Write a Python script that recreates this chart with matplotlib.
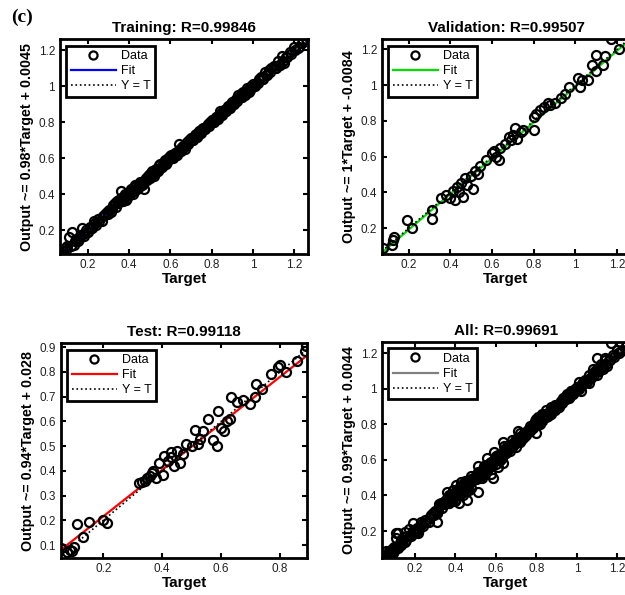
import matplotlib
matplotlib.use("Agg")
import matplotlib.pyplot as plt

plt.rcParams['font.family'] = ['Liberation Sans', 'DejaVu Sans']

# Training set (target, network output)
train_target_a = [
    0.065, 0.07, 0.08, 0.09, 0.1, 0.11, 0.12, 0.13, 0.14, 0.15,
    0.16, 0.17, 0.18, 0.19, 0.2, 0.21, 0.22, 0.23, 0.24, 0.25,
    0.27, 0.28, 0.29, 0.3, 0.31, 0.32, 0.33, 0.34, 0.35, 0.36,
    0.36, 0.37, 0.38, 0.39, 0.4, 0.41, 0.42, 0.43, 0.44, 0.45,
    0.46, 0.47, 0.48, 0.49, 0.5, 0.5, 0.51, 0.52, 0.53, 0.54,
    0.55, 0.56, 0.57, 0.58, 0.59, 0.6, 0.61, 0.62, 0.63, 0.64,
    0.65, 0.66, 0.67, 0.68, 0.69, 0.7, 0.71, 0.72, 0.73, 0.74,
    0.75, 0.76, 0.77, 0.78, 0.79, 0.8, 0.81, 0.82, 0.83, 0.84,
    0.85, 0.86, 0.87, 0.88, 0.89, 0.9, 0.91, 0.92, 0.93, 0.94,
    0.95, 0.96, 0.97, 0.98, 0.99, 1.0, 1.01, 1.02, 1.03, 1.04,
    1.05, 1.06, 1.07, 1.08, 1.09, 1.1, 1.11, 1.12, 1.13, 1.14,
    1.15, 1.16, 1.18, 1.2, 1.22, 1.24, 1.26,
    0.355, 0.365, 0.375, 0.385, 0.395, 0.405, 0.415, 0.425, 0.435, 0.445,
    0.455, 0.465, 0.475, 0.485, 0.495, 0.505, 0.515, 0.525, 0.535, 0.545,
    0.555, 0.565, 0.575, 0.585, 0.595, 0.605, 0.615, 0.625, 0.635, 0.645,
    0.655, 0.665, 0.675, 0.685, 0.695, 0.705, 0.715, 0.725, 0.735, 0.745,
    0.755, 0.765, 0.775, 0.785, 0.795, 0.805, 0.815, 0.825, 0.835, 0.845,
    0.855, 0.865, 0.875, 0.885, 0.895, 0.905, 0.915, 0.925, 0.935, 0.945,
    0.955, 0.965, 0.975, 0.985, 0.995,
]
train_output_a = [
    0.068, 0.075, 0.085, 0.1, 0.11, 0.16, 0.19, 0.12, 0.15, 0.14,
    0.17, 0.21, 0.17, 0.2, 0.19, 0.22, 0.21, 0.25, 0.23, 0.26,
    0.25, 0.29, 0.3, 0.31, 0.3, 0.34, 0.35, 0.36, 0.37, 0.42,
    0.38, 0.36, 0.4, 0.38, 0.41, 0.43, 0.4, 0.45, 0.43, 0.47,
    0.45, 0.43, 0.49, 0.5, 0.51, 0.49, 0.53, 0.5, 0.54, 0.53,
    0.57, 0.55, 0.58, 0.57, 0.6, 0.61, 0.6, 0.63, 0.62, 0.68,
    0.64, 0.67, 0.65, 0.69, 0.7, 0.71, 0.7, 0.73, 0.72, 0.75,
    0.74, 0.77, 0.76, 0.79, 0.8, 0.81, 0.8, 0.83, 0.82, 0.86,
    0.84, 0.87, 0.86, 0.89, 0.88, 0.91, 0.9, 0.93, 0.95, 0.94,
    0.97, 0.95, 0.99, 0.97, 1.0, 1.01, 1.0, 1.02, 1.04, 1.05,
    1.04, 1.08, 1.06, 1.09, 1.1, 1.11, 1.1, 1.14, 1.12, 1.17,
    1.13, 1.16, 1.19, 1.22, 1.21, 1.24, 1.26,
    0.36, 0.375, 0.39, 0.37, 0.405, 0.4, 0.42, 0.44, 0.43, 0.455,
    0.46, 0.47, 0.48, 0.48, 0.505, 0.52, 0.51, 0.535, 0.53, 0.56,
    0.55, 0.57, 0.59, 0.58, 0.6, 0.62, 0.61, 0.63, 0.64, 0.65,
    0.66, 0.67, 0.68, 0.685, 0.7, 0.71, 0.72, 0.735, 0.73, 0.75,
    0.76, 0.77, 0.78, 0.79, 0.8, 0.8, 0.82, 0.83, 0.84, 0.85,
    0.86, 0.87, 0.88, 0.89, 0.9, 0.91, 0.92, 0.93, 0.94, 0.96,
    0.96, 0.97, 0.98, 0.99, 1.0,
]
train_target_b = [
    0.075, 0.095, 0.115, 0.135, 0.155, 0.175, 0.195, 0.215, 0.235, 0.255,
    0.275, 0.295, 0.315, 0.335, 0.345, 0.365, 0.385, 0.405, 0.425, 0.445,
    0.465, 0.485, 0.505, 0.525, 0.545, 0.565, 0.585, 0.605, 0.625, 0.645,
    0.665, 0.685, 0.705, 0.725, 0.745, 0.765, 0.785, 0.805, 0.825, 0.845,
    0.865, 0.885, 0.905, 0.925, 0.945, 0.965, 0.985, 1.005, 1.025, 1.045,
    1.065, 1.085, 1.105, 1.125, 1.145, 1.165, 1.185, 1.205, 1.225, 1.245,
]
train_output_b = [
    0.07, 0.09, 0.11, 0.14, 0.15, 0.18, 0.19, 0.21, 0.24, 0.25,
    0.28, 0.29, 0.32, 0.33, 0.35, 0.36, 0.39, 0.41, 0.42, 0.44,
    0.455, 0.49, 0.5, 0.52, 0.54, 0.56, 0.59, 0.6, 0.62, 0.64,
    0.66, 0.68, 0.7, 0.72, 0.74, 0.76, 0.78, 0.81, 0.82, 0.84,
    0.86, 0.88, 0.9, 0.92, 0.94, 0.96, 0.98, 1.0, 1.02, 1.04,
    1.06, 1.08, 1.1, 1.12, 1.14, 1.16, 1.18, 1.2, 1.22, 1.25,
]
train_target = train_target_a + train_target_b
train_output = train_output_a + train_output_b

# Validation set
val_target = [
    0.075, 0.12, 0.125, 0.13, 0.19, 0.215, 0.31, 0.31, 0.355, 0.38,
    0.4, 0.41, 0.42, 0.43, 0.44, 0.45, 0.46, 0.47, 0.48, 0.5,
    0.51, 0.52, 0.53, 0.54, 0.57, 0.6, 0.61, 0.62, 0.635, 0.64,
    0.66, 0.68, 0.69, 0.7, 0.71, 0.72, 0.74, 0.75, 0.8, 0.8,
    0.81, 0.83, 0.85, 0.87, 0.88, 0.9, 0.93, 0.95, 0.97, 1.01,
    1.02, 1.03, 1.06, 1.08, 1.1, 1.1, 1.13, 1.14, 1.17, 1.21,
]
val_output = [
    0.088, 0.107, 0.135, 0.15, 0.243, 0.2, 0.3, 0.25, 0.37, 0.385,
    0.37, 0.41, 0.36, 0.43, 0.4, 0.45, 0.375, 0.48, 0.44, 0.49,
    0.42, 0.52, 0.5, 0.55, 0.58, 0.62, 0.63, 0.6, 0.58, 0.65,
    0.67, 0.71, 0.69, 0.72, 0.76, 0.7, 0.74, 0.75, 0.82, 0.75,
    0.84, 0.86, 0.88, 0.9, 0.89, 0.9, 0.93, 0.95, 0.99, 1.04,
    0.99, 1.03, 1.03, 1.11, 1.17, 1.08, 1.11, 1.16, 1.256, 1.2,
]

# Test set
test_target = [
    0.056, 0.075, 0.085, 0.095, 0.1, 0.109, 0.132, 0.151, 0.2, 0.214,
    0.32, 0.33, 0.34, 0.35, 0.36, 0.364, 0.37, 0.38, 0.39, 0.405,
    0.404, 0.42, 0.43, 0.43, 0.44, 0.45, 0.46, 0.47, 0.48, 0.5,
    0.51, 0.52, 0.53, 0.54, 0.557, 0.574, 0.585, 0.59, 0.6, 0.61,
    0.62, 0.63, 0.634, 0.653, 0.676, 0.7, 0.715, 0.72, 0.74, 0.77,
    0.795, 0.8, 0.82, 0.857, 0.885, 0.89,
]
test_output = [
    0.087, 0.07, 0.08, 0.075, 0.09, 0.187, 0.131, 0.194, 0.2, 0.191,
    0.35, 0.355, 0.36, 0.37, 0.38, 0.39, 0.4, 0.37, 0.43, 0.46,
    0.382, 0.44, 0.457, 0.476, 0.42, 0.48, 0.43, 0.47, 0.51, 0.5,
    0.565, 0.51, 0.53, 0.563, 0.61, 0.523, 0.5, 0.644, 0.575, 0.56,
    0.6, 0.61, 0.698, 0.678, 0.685, 0.67, 0.7, 0.75, 0.73, 0.79,
    0.82, 0.83, 0.8, 0.846, 0.886, 0.906,
]

all_target = train_target + val_target + test_target
all_output = train_output + val_output + test_output

# panel settings: title, fit slope/intercept, y label, fit colour, limits, ticks
PANELS = [
    {'title': 'Training: R=0.99846', 'slope': 0.98, 'icpt': 0.0045,
     'ylabel': 'Output ~= 0.98*Target + 0.0045', 'color': '#0000ff',
     'x': train_target, 'y': train_output,
     'xlim': (0.064, 1.268), 'ylim': (0.067, 1.261),
     'ticks': [0.2, 0.4, 0.6, 0.8, 1.0, 1.2],
     'pos': [0.096, 0.573, 0.397, 0.361]},
    {'title': 'Validation: R=0.99507', 'slope': 1.0, 'icpt': -0.0084,
     'ylabel': 'Output ~= 1*Target + -0.0084', 'color': '#00e000',
     'x': val_target, 'y': val_output,
     'xlim': (0.071, 1.262), 'ylim': (0.055, 1.256),
     'ticks': [0.2, 0.4, 0.6, 0.8, 1.0, 1.2],
     'pos': [0.611, 0.573, 0.397, 0.361]},
    {'title': 'Test: R=0.99118', 'slope': 0.94, 'icpt': 0.028,
     'ylabel': 'Output ~= 0.94*Target + 0.028', 'color': '#ff0000',
     'x': test_target, 'y': test_output,
     'xlim': (0.056, 0.893), 'ylim': (0.047, 0.916),
     'ticks': [0.1, 0.2, 0.3, 0.4, 0.5, 0.6, 0.7, 0.8, 0.9],
     'xticks': [0.2, 0.4, 0.6, 0.8],
     'pos': [0.0976, 0.062, 0.394, 0.361]},
    {'title': 'All: R=0.99691', 'slope': 0.99, 'icpt': 0.0044,
     'ylabel': 'Output ~= 0.99*Target + 0.0044', 'color': '#808080',
     'x': all_target, 'y': all_output,
     'xlim': (0.038, 1.262), 'ylim': (0.048, 1.262),
     'ticks': [0.2, 0.4, 0.6, 0.8, 1.0, 1.2],
     'pos': [0.611, 0.062, 0.397, 0.363]},
]


def draw_panel(fig, p):
    ax = fig.add_axes(p['pos'])
    lo = min(p['xlim'][0], p['ylim'][0])
    hi = max(p['xlim'][1], p['ylim'][1])
    ax.plot(p['x'], p['y'], 'o', mfc='none', mec='black', mew=1.6,
            ms=6.5, label='Data', zorder=3)
    ax.plot([lo, hi], [p['slope'] * lo + p['icpt'], p['slope'] * hi + p['icpt']],
            '-', color=p['color'], lw=1.6, label='Fit', zorder=2)
    ax.plot([lo, hi], [lo, hi], ':', color='black', lw=1.2, label='Y = T', zorder=4)
    ax.set_xlim(p['xlim'])
    ax.set_ylim(p['ylim'])
    xt = p.get('xticks', p['ticks'])
    ax.set_xticks(xt)
    ax.set_xticklabels([f"{v:g}" for v in xt])
    ax.set_yticks(p['ticks'])
    ax.set_yticklabels([f"{v:g}" for v in p['ticks']])
    ax.tick_params(direction='in', top=True, right=True, length=3.5, width=1.5,
                   labelsize=8.5, pad=3.5, colors='black', labelcolor='#222222')
    for sp in ax.spines.values():
        sp.set_linewidth(2)
    ax.set_title(p['title'], fontsize=11, fontweight='bold', pad=5)
    ax.set_xlabel('Target', fontsize=11, fontweight='bold', labelpad=1)
    ax.set_ylabel(p['ylabel'], fontsize=10.3, fontweight='bold', labelpad=3)
    leg = ax.legend(loc='upper left', fontsize=9, fancybox=False,
                    edgecolor='black', framealpha=1, borderaxespad=0.5,
                    handlelength=3.6, handletextpad=0.45, borderpad=0.35,
                    labelspacing=0.25, markerscale=0.9)
    leg.get_frame().set_linewidth(2)
    return ax


fig = plt.figure(figsize=(6.25, 5.95), dpi=100)
for panel in PANELS:
    draw_panel(fig, panel)
fig.text(0.018, 0.985, '(c)', fontsize=14, fontweight='bold',
         family=['Liberation Serif', 'DejaVu Serif'], va='top', ha='left')
fig.savefig('out.png', dpi=100)
